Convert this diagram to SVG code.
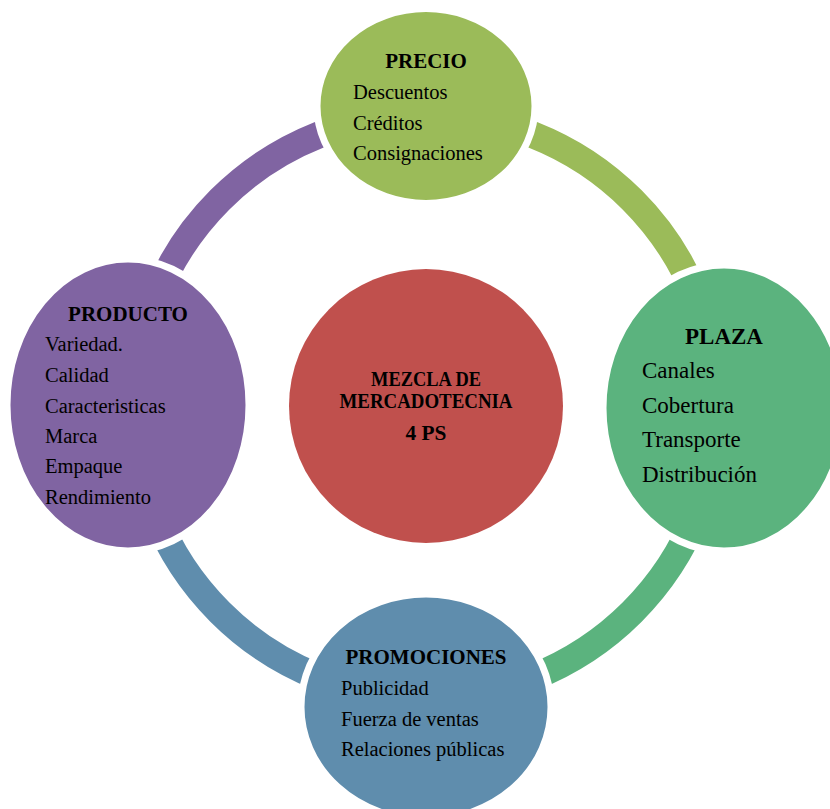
<svg xmlns="http://www.w3.org/2000/svg" width="830" height="809" viewBox="0 0 830 809">
<style>
.arc{fill:none;stroke-width:27}
.node{stroke:#fff;stroke-width:7}
.t{font-family:"Liberation Serif","Times New Roman",serif;fill:#000}
.h{font-weight:bold;text-anchor:middle}
.c{font-family:"Liberation Serif","Times New Roman",serif;font-weight:bold;font-size:20px;text-anchor:middle;fill:#000}
</style>
<rect width="830" height="809" fill="#fff"/>
<g id="connectors">
<path class="arc" stroke="#9BBB59" d="M426 114.5 A291.5 291.5 0 0 1 717.5 406"/>
<path class="arc" stroke="#5BB37E" d="M717.5 406 A291.5 291.5 0 0 1 426 697.5"/>
<path class="arc" stroke="#5F8DAD" d="M426 697.5 A291.5 291.5 0 0 1 134.5 406"/>
<path class="arc" stroke="#8064A2" d="M134.5 406 A291.5 291.5 0 0 1 426 114.5"/>
</g>
<g id="center">
<circle cx="426" cy="406" r="137" fill="#C0504D"/>
<text class="c" x="426" y="386" textLength="110" lengthAdjust="spacingAndGlyphs">MEZCLA DE</text>
<text class="c" x="426" y="408" textLength="173" lengthAdjust="spacingAndGlyphs">MERCADOTECNIA</text>
<text class="c" x="426" y="440" textLength="41" lengthAdjust="spacingAndGlyphs">4 PS</text>
</g>
<g id="precio">
<ellipse class="node" cx="426" cy="106" rx="109" ry="97.5" fill="#9BBB59"/>
<text class="t h" x="426" y="68" font-size="21">PRECIO</text>
<text class="t" x="353" y="99" font-size="20.5">Descuentos</text>
<text class="t" x="353" y="130" font-size="20.5">Créditos</text>
<text class="t" x="353" y="160" font-size="20.5">Consignaciones</text>
</g>
<g id="plaza">
<ellipse class="node" cx="724" cy="408" rx="121" ry="143" fill="#5BB37E"/>
<text class="t h" x="724" y="344" font-size="23">PLAZA</text>
<text class="t" x="642" y="378" font-size="23">Canales</text>
<text class="t" x="642" y="413" font-size="23">Cobertura</text>
<text class="t" x="642" y="447" font-size="23">Transporte</text>
<text class="t" x="642" y="482" font-size="23">Distribución</text>
</g>
<g id="promociones">
<ellipse class="node" cx="426" cy="707" rx="125" ry="113" fill="#5F8DAD"/>
<text class="t h" x="426" y="664" font-size="21">PROMOCIONES</text>
<text class="t" x="341" y="695" font-size="20.5">Publicidad</text>
<text class="t" x="341" y="726" font-size="20.5">Fuerza de ventas</text>
<text class="t" x="341" y="756" font-size="20.5">Relaciones públicas</text>
</g>
<g id="producto">
<ellipse class="node" cx="128" cy="405" rx="121" ry="146" fill="#8064A2"/>
<text class="t h" x="128" y="321" font-size="21">PRODUCTO</text>
<text class="t" x="45" y="351" font-size="20.5">Variedad.</text>
<text class="t" x="45" y="382" font-size="20.5">Calidad</text>
<text class="t" x="45" y="413" font-size="20.5">Caracteristicas</text>
<text class="t" x="45" y="443" font-size="20.5">Marca</text>
<text class="t" x="45" y="473" font-size="20.5">Empaque</text>
<text class="t" x="45" y="504" font-size="20.5">Rendimiento</text>
</g>
</svg>
